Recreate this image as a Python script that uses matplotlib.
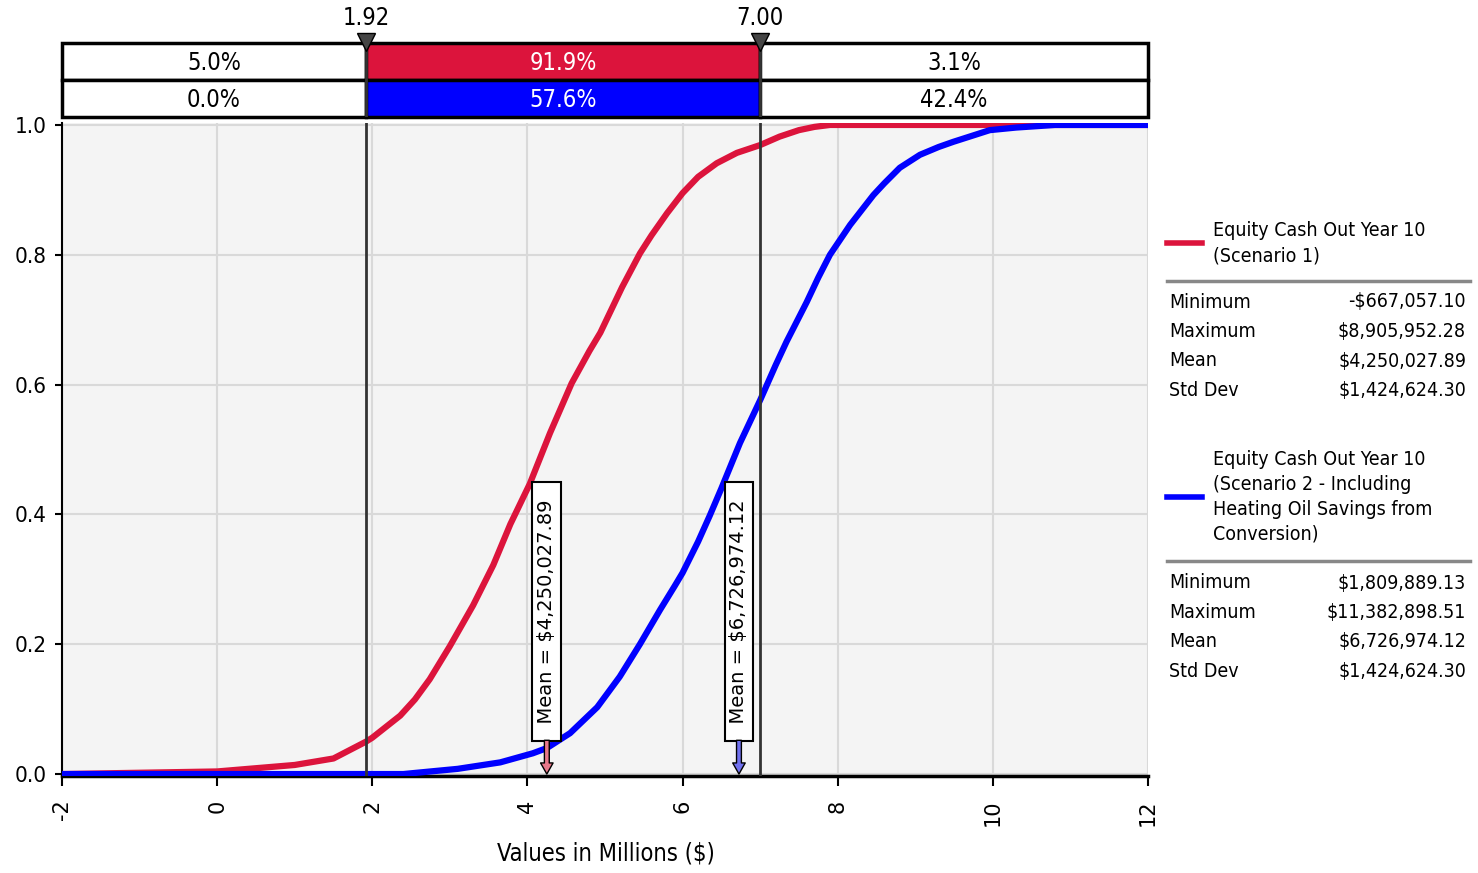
import matplotlib
matplotlib.use("Agg")
import matplotlib.pyplot as plt
from matplotlib.lines import Line2D
from matplotlib.patches import Rectangle

# cumulative curves (x in millions, cumulative prob)
red_x = [-2.0, 0.0, 0.5, 1.0, 1.5, 1.92, 2.0, 2.36, 2.55, 2.74, 3.0, 3.3, 3.56,
         3.78, 4.03, 4.29, 4.57, 4.8, 4.94, 5.1, 5.22, 5.45, 5.6, 5.8, 6.0, 6.2,
         6.44, 6.7, 7.0, 7.25, 7.5, 7.7, 7.9, 12.0]
red_y = [0.0, 0.004, 0.009, 0.014, 0.024, 0.05, 0.056, 0.09, 0.115, 0.146, 0.197,
         0.26, 0.322, 0.385, 0.447, 0.525, 0.602, 0.652, 0.68, 0.72, 0.75, 0.802,
         0.83, 0.864, 0.895, 0.92, 0.941, 0.957, 0.969, 0.982, 0.992, 0.997,
         1.0, 1.0]
blue_x = [-2.0, 2.4, 3.1, 3.65, 4.07, 4.25, 4.55, 4.9, 5.19, 5.45, 5.71, 5.9,
          6.0, 6.2, 6.35, 6.5, 6.74, 7.0, 7.2, 7.34, 7.6, 7.75, 7.9, 8.16, 8.46,
          8.6, 8.8, 9.06, 9.3, 9.49, 9.96, 10.3, 10.8, 12.0]
blue_y = [0.0, 0.0, 0.008, 0.018, 0.032, 0.04, 0.063, 0.103, 0.15, 0.2, 0.253,
          0.29, 0.31, 0.358, 0.398, 0.44, 0.51, 0.576, 0.63, 0.666, 0.727, 0.765,
          0.80, 0.846, 0.892, 0.91, 0.934, 0.954, 0.966, 0.974, 0.992, 0.996,
          1.0, 1.0]

red_mean = 4.25002789
blue_mean = 6.72697412
red_mean_lbl = "Mean = $4,250,027.89"
blue_mean_lbl = "Mean = $6,726,974.12"

marks = [1.92, 7.00]
mark_lbls = ["1.92", "7.00"]
red_pcts = ["5.0%", "91.9%", "3.1%"]
blue_pcts = ["0.0%", "57.6%", "42.4%"]

stat_names = ["Minimum", "Maximum", "Mean", "Std Dev"]
red_stats = ["-$667,057.10", "$8,905,952.28", "$4,250,027.89", "$1,424,624.30"]
blue_stats = ["$1,809,889.13", "$11,382,898.51", "$6,726,974.12", "$1,424,624.30"]
red_name = "Equity Cash Out Year 10\n(Scenario 1)"
blue_name = ("Equity Cash Out Year 10\n(Scenario 2 - Including\n"
             "Heating Oil Savings from\nConversion)")

xticks = [-2, 0, 2, 4, 6, 8, 10, 12]
yticks = [0.0, 0.2, 0.4, 0.6, 0.8, 1.0]

RED = "#DC143C"
BLUE = "#0000FF"
NARROW = dict(family="DejaVu Sans", fontstretch="condensed")

W, H = 1478, 873
fig = plt.figure(figsize=(W / 100, H / 100), dpi=100)


def fx(x):
    return x / W


def fy(y):
    return 1 - y / H


ax = fig.add_axes([fx(62), fy(776), (1148 - 62) / W, (776 - 123) / H])
ax.set_facecolor("#f4f4f4")
ax.set_xlim(-2, 12)
ax.set_ylim(-0.003, 1.003)
ax.grid(True, color="#d9d9d9", lw=1.5)
ax.set_axisbelow(True)
for s in ["top", "right"]:
    ax.spines[s].set_visible(False)
ax.spines["left"].set_linewidth(1.5)
ax.spines["bottom"].set_linewidth(2.5)

ax.set_xticks(xticks)
ax.set_xticklabels([str(t) for t in xticks], rotation=90, fontsize=15)
ax.set_yticks(yticks)
ax.set_yticklabels(["%.1f" % t for t in yticks], fontsize=16, **NARROW)
ax.tick_params(axis="x", length=7, width=1.5, pad=10)
ax.tick_params(axis="y", length=5, width=1.5, pad=6)

ax.plot(red_x, red_y, color=RED, lw=4.5, zorder=3, solid_joinstyle="round")
ax.plot(blue_x, blue_y, color=BLUE, lw=4.5, zorder=4, solid_joinstyle="round")

for m in marks:
    ax.axvline(m, color="#333333", lw=2, zorder=5)

for mean, lbl, fc in [(red_mean, red_mean_lbl, "#e8788a"),
                      (blue_mean, blue_mean_lbl, "#7070ee")]:
    ax.text(mean, 0.059, "  " + lbl + "  ", rotation=90, ha="center", va="bottom",
            fontsize=14, zorder=7,
            bbox=dict(boxstyle="square,pad=0.25", fc="white", ec="black", lw=1.5))
    ax.annotate("", xy=(mean, 0.0), xytext=(mean, 0.052), zorder=7,
                arrowprops=dict(arrowstyle="simple,head_width=0.9,head_length=0.8,tail_width=0.35",
                                fc=fc, ec="black", lw=1, shrinkA=0, shrinkB=0))

fig.text(fx(606), fy(853), "Values in Millions ($)", ha="center", va="center",
         fontsize=17, **NARROW)

# percentile bar above the plot
tax = fig.add_axes([fx(62), fy(117), (1148 - 62) / W, 74 / H])
tax.set_xlim(-2, 12)
tax.set_ylim(0, 2)
tax.axis("off")
bounds = [-2, marks[0], marks[1], 12]
for y0, pcts, col in [(1, red_pcts, RED), (0, blue_pcts, BLUE)]:
    for i in range(3):
        fc = col if i == 1 else "white"
        tax.add_patch(Rectangle((bounds[i], y0), bounds[i + 1] - bounds[i], 1,
                                fc=fc, ec="black", lw=2.5, clip_on=False))
        tax.text((bounds[i] + bounds[i + 1]) / 2, y0 + 0.45, pcts[i],
                 ha="center", va="center", fontsize=17,
                 color="white" if i == 1 else "black", **NARROW)
tax.vlines(marks, 0, 2, color="#333333", lw=2, zorder=4)
tax.plot(marks, [2.04, 2.04], ls="none", marker="v", ms=13, color="#454545",
         mec="black", mew=1, clip_on=False, zorder=5)
for m, lbl in zip(marks, mark_lbls):
    tax.text(m, 2.68, lbl, ha="center", va="center", fontsize=17, **NARROW)

# legend / stats panel
fig.add_artist(Line2D([fx(1167), fx(1202)], [fy(243)] * 2, color=RED, lw=4))
fig.text(fx(1213), fy(243), red_name, ha="left", va="center", fontsize=14,
         linespacing=1.4, **NARROW)
fig.add_artist(Line2D([fx(1167), fx(1470)], [fy(281)] * 2, color="#888888", lw=2.5))
for i, (n, v) in enumerate(zip(stat_names, red_stats)):
    y = 302 + i * 29.5
    fig.text(fx(1169), fy(y), n, ha="left", va="center", fontsize=14, **NARROW)
    fig.text(fx(1466), fy(y), v, ha="right", va="center", fontsize=14, **NARROW)

fig.add_artist(Line2D([fx(1167), fx(1202)], [fy(497)] * 2, color=BLUE, lw=4))
fig.text(fx(1213), fy(497), blue_name, ha="left", va="center", fontsize=14,
         linespacing=1.4, **NARROW)
fig.add_artist(Line2D([fx(1167), fx(1470)], [fy(561)] * 2, color="#888888", lw=2.5))
for i, (n, v) in enumerate(zip(stat_names, blue_stats)):
    y = 583 + i * 29.4
    fig.text(fx(1169), fy(y), n, ha="left", va="center", fontsize=14, **NARROW)
    fig.text(fx(1466), fy(y), v, ha="right", va="center", fontsize=14, **NARROW)

fig.savefig("out.png", dpi=100)
